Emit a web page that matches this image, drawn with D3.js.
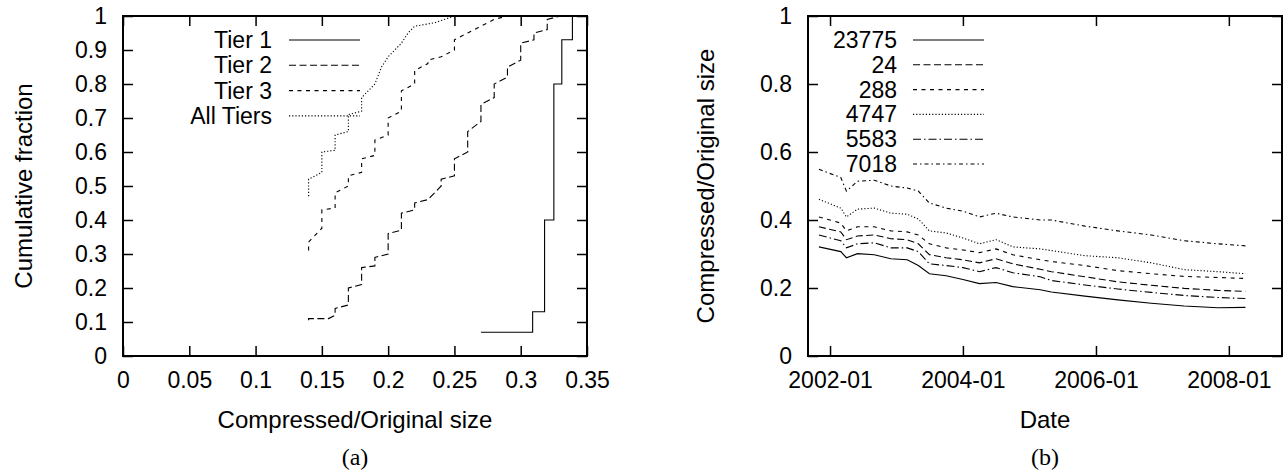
<!DOCTYPE html>
<html>
<head>
<meta charset="utf-8">
<script src="https://cdn.jsdelivr.net/npm/d3@7"></script>
<style>
  body { margin: 0; background: #fff; }
  svg { display: block; }
  text { font-family: "Liberation Sans", Arial, sans-serif; fill: #000; }
</style>
</head>
<body>
<svg id="chart"></svg>
<script>
const width = 1284, height = 474;

// ---- panel (a): CDF of compressed/original size per tier ----
const tierNames = ["Tier 1", "Tier 2", "Tier 3", "All Tiers"];
const tier1 = [[0.27,0.07],[0.309,0.07],[0.309,0.13],[0.318,0.13],[0.318,0.40],[0.325,0.40],
    [0.325,0.80],[0.331,0.80],[0.331,0.93],[0.339,0.93],[0.339,1.0]];
const tier2 = [[0.14,0.105],[0.14,0.11],[0.155,0.11],[0.16,0.12],[0.16,0.14],[0.17,0.15],[0.17,0.20],
    [0.18,0.21],[0.18,0.26],[0.19,0.265],[0.19,0.29],[0.20,0.30],[0.20,0.36],[0.21,0.37],[0.21,0.42],
    [0.22,0.43],[0.22,0.45],[0.23,0.46],[0.235,0.48],[0.24,0.50],[0.24,0.52],[0.25,0.53],[0.25,0.58],
    [0.26,0.60],[0.26,0.66],[0.27,0.69],[0.27,0.74],[0.28,0.76],[0.28,0.80],[0.29,0.82],[0.29,0.85],
    [0.30,0.87],[0.30,0.92],[0.31,0.93],[0.31,0.95],[0.32,0.96],[0.32,0.99],[0.33,1.0]];
const tier3 = [[0.14,0.31],[0.14,0.335],[0.15,0.376],[0.15,0.43],[0.16,0.435],[0.16,0.48],[0.17,0.50],
    [0.17,0.53],[0.18,0.54],[0.18,0.58],[0.19,0.59],[0.19,0.635],[0.20,0.65],[0.20,0.70],[0.21,0.72],
    [0.21,0.78],[0.22,0.80],[0.22,0.84],[0.23,0.86],[0.23,0.87],[0.24,0.88],[0.25,0.90],[0.25,0.93],
    [0.26,0.95],[0.27,0.97],[0.28,0.99],[0.29,1.0]];
const allTiers = [[0.14,0.47],[0.14,0.52],[0.15,0.54],[0.15,0.60],[0.16,0.605],[0.16,0.65],[0.17,0.66],
    [0.17,0.71],[0.18,0.72],[0.18,0.76],[0.19,0.80],[0.195,0.85],[0.20,0.88],[0.205,0.90],[0.21,0.92],
    [0.215,0.95],[0.22,0.97],[0.235,0.98],[0.25,1.0]];

// ---- panel (b): ratio over time per site ----
const siteNames = ["23775", "24", "288", "4747", "5583", "7018"];
const dates = ["2001-11","2002-03","2002-04","2002-06","2002-09","2002-12","2003-03","2003-05",
    "2003-07","2003-10","2004-01","2004-04","2004-07","2004-10","2005-03","2005-05","2005-11",
    "2006-05","2006-11","2007-05","2007-11","2008-04"];
const site23775 = [0.321,0.307,0.289,0.301,0.298,0.286,0.283,0.266,0.242,0.236,0.225,0.213,0.216,
    0.204,0.195,0.188,0.176,0.165,0.155,0.147,0.142,0.143];
const site24 = [0.38,0.365,0.342,0.353,0.356,0.345,0.342,0.33,0.298,0.289,0.283,0.274,0.286,0.271,
    0.255,0.248,0.233,0.218,0.208,0.199,0.193,0.19];
const site288 = [0.409,0.391,0.368,0.38,0.38,0.368,0.365,0.356,0.33,0.318,0.312,0.304,0.315,0.298,
    0.283,0.278,0.266,0.251,0.242,0.234,0.231,0.228];
const site4747 = [0.461,0.435,0.409,0.432,0.435,0.42,0.417,0.403,0.368,0.362,0.347,0.33,0.342,0.321,
    0.315,0.31,0.295,0.289,0.274,0.254,0.248,0.242];
const site5583 = [0.356,0.339,0.318,0.33,0.333,0.318,0.318,0.307,0.271,0.266,0.26,0.248,0.26,0.245,
    0.233,0.222,0.209,0.197,0.187,0.178,0.172,0.169];
const site7018 = [0.549,0.525,0.485,0.514,0.517,0.50,0.494,0.485,0.45,0.435,0.426,0.409,0.42,0.409,
    0.40,0.40,0.382,0.368,0.356,0.339,0.33,0.324];

const xTicksA = [0, 0.05, 0.1, 0.15, 0.2, 0.25, 0.3, 0.35];
const yTicksA = [0, 0.1, 0.2, 0.3, 0.4, 0.5, 0.6, 0.7, 0.8, 0.9, 1];
const xTicksB = ["2002-01", "2004-01", "2006-01", "2008-01"];
const yTicksB = [0, 0.2, 0.4, 0.6, 0.8, 1];

// gnuplot-ish line types 1..6
const dashes = [null, "7,3.5", "4,4.5", "1.2,2", "8,3,1.5,3", "4,3,1.5,3"];

const fontSize = 23, titleSize = 24;

const svg = d3.select("#chart")
    .attr("width", width)
    .attr("height", height)
    .attr("font-size", fontSize);

svg.append("rect").attr("width", width).attr("height", height).attr("fill", "#fff");

const plotTop = 16, plotBottom = 356;
const tickLen = 10, pad = 16;

function frame(x, y, xTicks, yTicks, xFmt, yFmt) {
    const g = svg.append("g");
    const [x0, x1] = x.range();
    g.append("g").attr("transform", `translate(0,${plotBottom})`)
        .call(d3.axisBottom(x).tickValues(xTicks).tickFormat(xFmt).tickSize(-tickLen).tickPadding(pad));
    g.append("g").attr("transform", `translate(0,${plotTop})`)
        .call(d3.axisTop(x).tickValues(xTicks).tickFormat("").tickSize(-tickLen));
    g.append("g").attr("transform", `translate(${x0},0)`)
        .call(d3.axisLeft(y).tickValues(yTicks).tickFormat(yFmt).tickSize(-tickLen).tickPadding(pad));
    g.append("g").attr("transform", `translate(${x1},0)`)
        .call(d3.axisRight(y).tickValues(yTicks).tickFormat("").tickSize(-tickLen));
    g.selectAll(".domain").remove();
    g.selectAll(".tick line").attr("stroke", "#000").attr("stroke-width", 1.5);
    g.selectAll(".tick text")
        .attr("font-family", "Liberation Sans, Arial, sans-serif")
        .attr("font-size", fontSize);
    g.append("rect")
        .attr("x", x0).attr("y", plotTop)
        .attr("width", x1 - x0).attr("height", plotBottom - plotTop)
        .attr("fill", "none").attr("stroke", "#000").attr("stroke-width", 2);
}

function legend(names, xText, yStart, step, sx0, sx1) {
    names.forEach((name, i) => {
        const yy = yStart + i * step;
        svg.append("text")
            .attr("x", xText).attr("y", yy)
            .attr("text-anchor", "end")
            .attr("dominant-baseline", "central")
            .text(name);
        svg.append("line")
            .attr("x1", sx0).attr("x2", sx1).attr("y1", yy).attr("y2", yy)
            .attr("stroke", "#000").attr("stroke-width", 1.1)
            .attr("stroke-dasharray", dashes[i]);
    });
}

// ---------- panel (a) ----------
const xa = d3.scaleLinear().domain([0, 0.35]).range([123, 587]);
const ya = d3.scaleLinear().domain([0, 1]).range([plotBottom, plotTop]);
frame(xa, ya, xTicksA, yTicksA, d3.format("~g"), d3.format("~g"));

const lineA = d3.line().x(d => xa(d[0])).y(d => ya(d[1]));
[tier1, tier2, tier3, allTiers].forEach((s, i) => {
    svg.append("path")
        .attr("d", lineA(s))
        .attr("fill", "none")
        .attr("stroke", "#000")
        .attr("stroke-width", 1.1)
        .attr("stroke-dasharray", dashes[i]);
});
legend(tierNames, 272, 40, 25.3, 289, 360);

svg.append("text")
    .attr("transform", `translate(23,${(plotTop + plotBottom) / 2}) rotate(-90)`)
    .attr("text-anchor", "middle").attr("dominant-baseline", "central")
    .attr("font-size", titleSize)
    .text("Cumulative fraction");
svg.append("text")
    .attr("x", 355).attr("y", 428).attr("text-anchor", "middle")
    .attr("font-size", titleSize)
    .text("Compressed/Original size");
svg.append("text")
    .attr("x", 355).attr("y", 465).attr("text-anchor", "middle")
    .attr("font-size", titleSize)
    .style("font-family", "Liberation Serif, Times New Roman, serif")
    .text("(a)");

// ---------- panel (b) ----------
const parse = d3.timeParse("%Y-%m");
const xb = d3.scaleTime()
    .domain([new Date(2001, 8, 2), new Date(2008, 9, 19)])
    .range([808, 1282]);
const yb = d3.scaleLinear().domain([0, 1]).range([plotBottom, plotTop]);
frame(xb, yb, xTicksB.map(parse), yTicksB, d3.timeFormat("%Y-%m"), d3.format("~g"));

const lineB = d3.line().x(d => xb(d[0])).y(d => yb(d[1]));
[site23775, site24, site288, site4747, site5583, site7018].forEach((vals, i) => {
    const pts = dates.map((d, j) => [parse(d), vals[j]]);
    svg.append("path")
        .attr("d", lineB(pts))
        .attr("fill", "none")
        .attr("stroke", "#000")
        .attr("stroke-width", 1.1)
        .attr("stroke-dasharray", dashes[i]);
});
legend(siteNames, 897, 40, 24.8, 913, 984);

svg.append("text")
    .attr("transform", `translate(705,${(plotTop + plotBottom) / 2}) rotate(-90)`)
    .attr("text-anchor", "middle").attr("dominant-baseline", "central")
    .attr("font-size", titleSize)
    .text("Compressed/Original size");
svg.append("text")
    .attr("x", 1045).attr("y", 428).attr("text-anchor", "middle")
    .attr("font-size", titleSize)
    .text("Date");
svg.append("text")
    .attr("x", 1045).attr("y", 465).attr("text-anchor", "middle")
    .attr("font-size", titleSize)
    .style("font-family", "Liberation Serif, Times New Roman, serif")
    .text("(b)");
</script>
</body>
</html>
